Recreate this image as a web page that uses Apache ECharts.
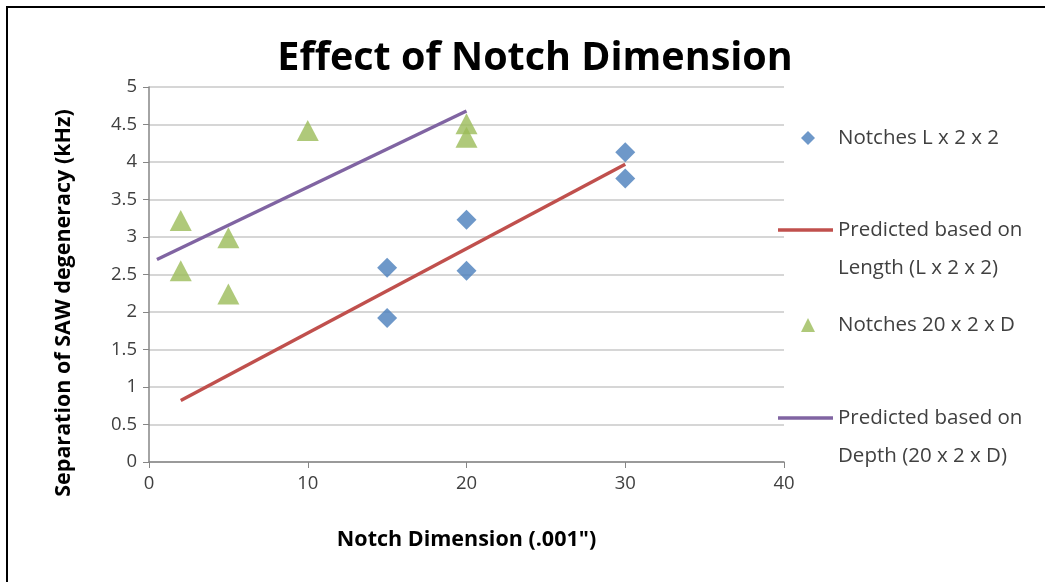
<!DOCTYPE html>
<html>
<head>
<meta charset="utf-8">
<script src="https://cdn.jsdelivr.net/npm/echarts@6/dist/echarts.min.js"></script>
<style>html,body{margin:0;padding:0;background:#fff}#c{width:1045px;height:582px}</style>
</head>
<body>
<div id="c"></div>
<script>
const xTicks = [0, 10, 20, 30, 40];
const yTicks = [0, 0.5, 1, 1.5, 2, 2.5, 3, 3.5, 4, 4.5, 5];
const lengthNotches = [[15, 2.59], [15, 1.92], [20, 3.23], [20, 2.55], [30, 4.13], [30, 3.78]];
const predictedLength = [[2, 0.82], [30, 3.97]];
const depthNotches = [[2, 3.22], [2, 2.55], [5, 2.99], [5, 2.24], [10, 4.42], [20, 4.51], [20, 4.33]];
const predictedDepth = [[0.5, 2.7], [20, 4.68]];
const seriesNames = ['Notches L x 2 x 2', 'Predicted based on\nLength (L x 2 x 2)', 'Notches 20 x 2 x D', 'Predicted based on\nDepth (20 x 2 x D)'];
const yTitle = 'Separation of SAW degeneracy (kHz)';
const xTitle = 'Notch Dimension (.001")';

const FONT = '"Open Sans", Lato, sans-serif';
const chart = echarts.init(document.getElementById('c'));

const LH = 38;
function symLeg(name, icon, cy) {
  return {
    data: [{ name: name, icon: icon }], orient: 'vertical', left: 801, top: cy - LH / 2, padding: 0,
    itemWidth: 14, itemHeight: 14, selectedMode: false,
    textStyle: { fontFamily: FONT, fontSize: 20.5, color: '#404040', lineHeight: LH, padding: [0, 0, 0, 18] }
  };
}
function lineLeg(name, cy) {
  return {
    data: [{ name: name, icon: 'rect' }], orient: 'vertical', left: 778, top: cy - 1.5 * LH, padding: 0,
    itemWidth: 55, itemHeight: 3.5, selectedMode: false,
    formatter: function (n) { return '\n' + n; },
    textStyle: { fontFamily: FONT, fontSize: 20.5, color: '#404040', lineHeight: LH }
  };
}

chart.setOption({
  animation: false,
  backgroundColor: '#fff',
  title: {
    text: 'Effect of Notch Dimension', left: 530, top: 34, textAlign: 'center',
    textStyle: { fontFamily: FONT, fontSize: 39.5, fontWeight: 'bold', color: '#000' }
  },
  graphic: [
    { type: 'rect', shape: { x: 7, y: 7, width: 1200, height: 800 }, style: { fill: 'none', stroke: '#000', lineWidth: 2 }, silent: true },
    { type: 'text', x: 64, y: 303, rotation: Math.PI / 2, silent: true,
      style: { text: yTitle, align: 'center', verticalAlign: 'middle', fontFamily: FONT, fontSize: 21.5, fontWeight: 'bold', fill: '#000' } }
  ],
  legend: [symLeg(seriesNames[0], 'diamond', 138), lineLeg(seriesNames[1], 230), symLeg(seriesNames[2], 'triangle', 325), lineLeg(seriesNames[3], 418)],
  grid: { left: 149, right: 261, top: 87, bottom: 120 },
  xAxis: {
    type: 'value', min: xTicks[0], max: xTicks[xTicks.length - 1], interval: 10,
    name: xTitle, nameLocation: 'middle', nameGap: 67,
    nameTextStyle: { fontFamily: FONT, fontSize: 21.5, fontWeight: 'bold', color: '#000' },
    axisLine: { lineStyle: { color: '#868686', width: 1.5 } },
    axisTick: { show: true, length: 6, lineStyle: { color: '#868686' } },
    axisLabel: { fontFamily: FONT, fontSize: 18.5, color: '#404040', margin: 12 },
    splitLine: { show: false }
  },
  yAxis: {
    type: 'value', min: yTicks[0], max: yTicks[yTicks.length - 1], interval: 0.5,
    axisLine: { show: true, lineStyle: { color: '#868686', width: 1.5 } },
    axisTick: { show: true, length: 6, lineStyle: { color: '#868686' } },
    axisLabel: { fontFamily: FONT, fontSize: 18.5, color: '#404040', margin: 12 },
    splitLine: { lineStyle: { color: '#c8c8c8', width: 1.5 } }
  },
  series: [
    { name: seriesNames[0], type: 'scatter', data: lengthNotches, symbol: 'diamond', symbolSize: 20, itemStyle: { color: '#4a7ebb' } },
    { name: seriesNames[1], type: 'line', data: predictedLength, showSymbol: false, symbol: 'none', lineStyle: { color: '#c0504d', width: 3.5 }, itemStyle: { color: '#c0504d' } },
    { name: seriesNames[2], type: 'scatter', data: depthNotches, symbol: 'triangle', symbolSize: [22, 21], itemStyle: { color: '#9bbb59' } },
    { name: seriesNames[3], type: 'line', data: predictedDepth, showSymbol: false, symbol: 'none', lineStyle: { color: '#8064a2', width: 3.5 }, itemStyle: { color: '#8064a2' } }
  ]
});
</script>
</body>
</html>
